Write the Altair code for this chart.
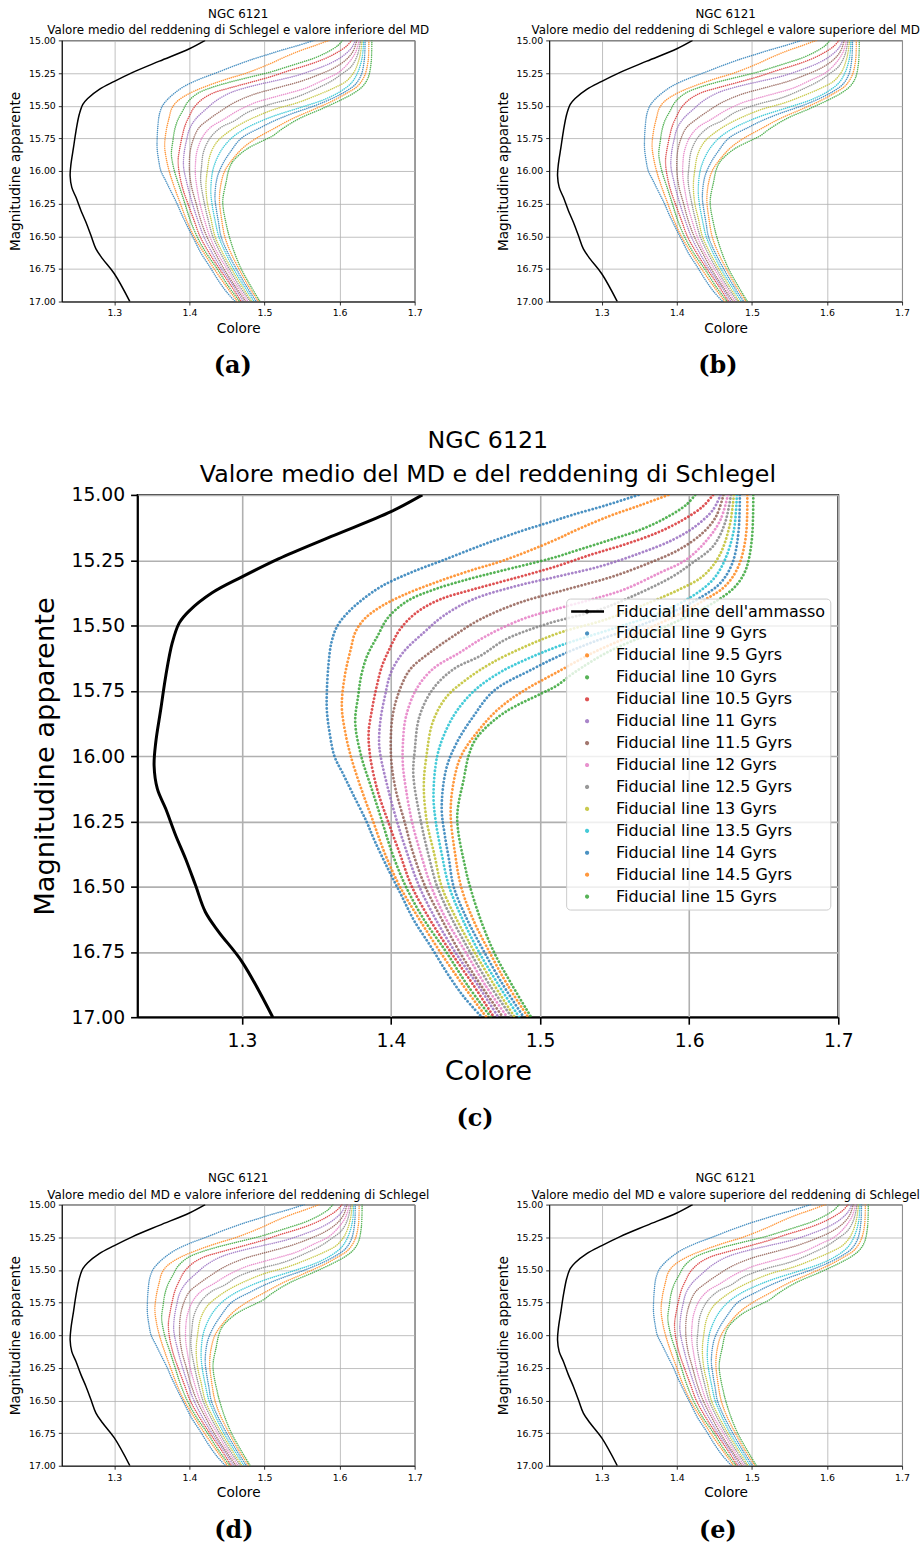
import altair as alt
import pandas as pd

# ---------------- data ----------------
X_DOMAIN = [1.23, 1.7]
Y_DOMAIN = [15.0, 17.0]
X_TICKS = [1.3, 1.4, 1.5, 1.6, 1.7]
Y_TICKS = [15.0, 15.25, 15.5, 15.75, 16.0, 16.25, 16.5, 16.75, 17.0]

FID_LABEL = "Fiducial line dell'ammasso"
FID_MAG = [15.000, 15.064, 15.159, 15.245, 15.314, 15.375, 15.445, 15.490, 15.566, 15.694,
           15.820, 15.948, 16.037, 16.126, 16.202, 16.304, 16.393, 16.495, 16.597, 16.673,
           16.787, 17.000]
FID_COL = [1.421, 1.400, 1.360, 1.3245, 1.300, 1.280, 1.2645, 1.258, 1.2533, 1.2489,
           1.2456, 1.2422, 1.2411, 1.2433, 1.2489, 1.2556, 1.2622, 1.2689, 1.2755, 1.2844,
           1.300, 1.3207]

AGES = ["9", "9.5", "10", "10.5", "11", "11.5", "12", "12.5", "13", "13.5", "14", "14.5", "15"]
ISO_COLORS = ["#1f77b4", "#ff7f0e", "#2ca02c", "#d62728", "#9467bd", "#8c564b", "#e377c2",
              "#7f7f7f", "#bcbd22", "#17becf", "#1f77b4", "#ff7f0e", "#2ca02c"]

MAG_090 = [15.000, 15.040, 15.076, 15.107, 15.139, 15.190, 15.250, 15.298, 15.349, 15.400, 15.451,
           15.502, 15.566, 15.655, 15.750, 15.828, 15.917, 16.000, 16.070, 16.146, 16.250, 16.324,
           16.432, 16.528, 16.630, 16.732, 16.834, 16.923, 17.000]
COL_090 = [1.566, 1.544, 1.522, 1.505, 1.487, 1.462, 1.435, 1.413, 1.394, 1.381, 1.371,
           1.364, 1.360, 1.358, 1.357, 1.357, 1.359, 1.362, 1.368, 1.3745, 1.3835, 1.389,
           1.398, 1.4065, 1.4155, 1.427, 1.438, 1.449, 1.461]

MAG_095 = [15.000, 15.040, 15.080, 15.130, 15.180, 15.250, 15.292, 15.337, 15.387, 15.432, 15.476,
           15.527, 15.591, 15.693, 15.808, 15.900, 16.000, 16.125, 16.250, 16.375, 16.500, 16.625,
           16.750, 16.875, 17.000]
COL_095 = [1.586, 1.567, 1.547, 1.526, 1.507, 1.476, 1.452, 1.429, 1.407, 1.392, 1.382,
           1.376, 1.373, 1.369, 1.367, 1.369, 1.373, 1.380, 1.388, 1.396, 1.406, 1.419,
           1.433, 1.448, 1.464]

MAG_100 = [15.000, 15.038, 15.089, 15.134, 15.172, 15.210, 15.242, 15.292, 15.324, 15.362, 15.406,
           15.470, 15.540, 15.616, 15.693, 15.769, 15.871, 16.000, 16.125, 16.250, 16.375, 16.500,
           16.625, 16.750, 16.875, 17.000]
COL_100 = [1.604, 1.598, 1.584, 1.567, 1.547, 1.526, 1.508, 1.473, 1.451, 1.429, 1.411,
           1.398, 1.391, 1.384, 1.380, 1.378, 1.376, 1.380, 1.387, 1.394, 1.401, 1.410,
           1.422, 1.437, 1.451, 1.467]

MAG_105 = [15.000, 15.045, 15.095, 15.146, 15.191, 15.229, 15.275, 15.317, 15.362, 15.400, 15.451,
           15.515, 15.578, 15.655, 15.744, 15.830, 15.910, 16.000, 16.133, 16.250, 16.375, 16.500,
           16.625, 16.750, 16.875, 17.000]
COL_105 = [1.616, 1.609, 1.596, 1.578, 1.556, 1.534, 1.510, 1.484, 1.455, 1.433, 1.417,
           1.406, 1.400, 1.394, 1.390, 1.387, 1.385, 1.386, 1.391, 1.398, 1.406, 1.414,
           1.426, 1.440, 1.455, 1.469]

MAG_110 = [15.000, 15.057, 15.121, 15.172, 15.223, 15.274, 15.312, 15.349, 15.400, 15.464, 15.527,
           15.604, 15.680, 15.769, 15.860, 15.948, 16.000, 16.125, 16.250, 16.375, 16.500, 16.625,
           16.750, 16.875, 17.000]
COL_110 = [1.621, 1.616, 1.604, 1.589, 1.567, 1.540, 1.512, 1.484, 1.455, 1.435, 1.422,
           1.408, 1.400, 1.396, 1.393, 1.392, 1.393, 1.398, 1.404, 1.411, 1.419, 1.430,
           1.443, 1.458, 1.472]

MAG_115 = [15.000, 15.083, 15.146, 15.210, 15.261, 15.312, 15.360, 15.413, 15.476, 15.540, 15.604,
           15.667, 15.744, 15.850, 16.000, 16.125, 16.250, 16.375, 16.500, 16.625, 16.750, 16.875,
           17.000]
COL_115 = [1.623, 1.618, 1.609, 1.593, 1.573, 1.549, 1.519, 1.486, 1.460, 1.442, 1.426,
           1.413, 1.406, 1.401, 1.400, 1.403, 1.409, 1.415, 1.423, 1.434, 1.446, 1.460,
           1.475]

MAG_120 = [15.000, 15.095, 15.172, 15.248, 15.299, 15.363, 15.401, 15.440, 15.476, 15.540, 15.604,
           15.667, 15.744, 15.850, 15.950, 16.037, 16.125, 16.250, 16.375, 16.500, 16.625, 16.750,
           16.875, 17.000]
COL_120 = [1.626, 1.621, 1.612, 1.598, 1.580, 1.556, 1.534, 1.509, 1.488, 1.464, 1.446,
           1.428, 1.417, 1.410, 1.408, 1.408, 1.410, 1.414, 1.420, 1.427, 1.437, 1.450,
           1.463, 1.478]

MAG_125 = [15.000, 15.108, 15.197, 15.261, 15.312, 15.375, 15.439, 15.495, 15.553, 15.616, 15.667,
           15.744, 15.850, 15.975, 16.075, 16.250, 16.375, 16.500, 16.625, 16.750, 16.875, 17.000]
COL_125 = [1.628, 1.624, 1.616, 1.602, 1.589, 1.567, 1.540, 1.504, 1.477, 1.460, 1.442,
           1.428, 1.419, 1.416, 1.415, 1.420, 1.425, 1.431, 1.441, 1.453, 1.466, 1.481]

MAG_130 = [15.000, 15.121, 15.235, 15.312, 15.363, 15.413, 15.477, 15.528, 15.578, 15.642, 15.705,
           15.775, 15.870, 15.990, 16.113, 16.250, 16.375, 16.500, 16.625, 16.750, 16.875, 17.000]
COL_130 = [1.630, 1.627, 1.620, 1.609, 1.593, 1.573, 1.544, 1.513, 1.491, 1.468, 1.451,
           1.437, 1.428, 1.424, 1.422, 1.424, 1.429, 1.434, 1.444, 1.456, 1.469, 1.483]

MAG_135 = [15.000, 15.134, 15.248, 15.324, 15.388, 15.452, 15.510, 15.578, 15.629, 15.680, 15.744,
           15.820, 15.900, 16.000, 16.151, 16.250, 16.375, 16.500, 16.625, 16.750, 16.875, 17.000]
COL_135 = [1.632, 1.630, 1.624, 1.616, 1.602, 1.580, 1.550, 1.513, 1.491, 1.473, 1.457,
           1.445, 1.437, 1.431, 1.4285, 1.430, 1.434, 1.439, 1.448, 1.459, 1.472, 1.486]

MAG_140 = [15.000, 15.146, 15.261, 15.337, 15.388, 15.440, 15.500, 15.560, 15.616, 15.667, 15.750,
           15.850, 15.950, 16.050, 16.200, 16.300, 16.400, 16.500, 16.625, 16.750, 16.875, 17.000]
COL_140 = [1.634, 1.633, 1.629, 1.621, 1.609, 1.592, 1.567, 1.537, 1.513, 1.495, 1.469,
           1.455, 1.444, 1.437, 1.434, 1.436, 1.439, 1.442, 1.451, 1.4625, 1.475, 1.489]

MAG_145 = [15.000, 15.159, 15.274, 15.350, 15.400, 15.460, 15.530, 15.600, 15.680, 15.750, 15.820,
           15.900, 16.000, 16.100, 16.220, 16.375, 16.500, 16.625, 16.750, 16.875, 17.000]
COL_145 = [1.639, 1.638, 1.633, 1.624, 1.611, 1.592, 1.565, 1.537, 1.511, 1.489, 1.472,
           1.459, 1.447, 1.442, 1.440, 1.443, 1.447, 1.455, 1.466, 1.478, 1.492]

MAG_150 = [15.000, 15.172, 15.286, 15.350, 15.400, 15.450, 15.520, 15.600, 15.680, 15.731, 15.760,
           15.830, 15.900, 15.943, 16.000, 16.083, 16.236, 16.432, 16.500, 16.625, 16.750, 16.875,
           17.000]
COL_150 = [1.643, 1.642, 1.638, 1.631, 1.620, 1.604, 1.578, 1.546, 1.523, 1.511, 1.501,
           1.477, 1.462, 1.456, 1.452, 1.449, 1.4444, 1.450, 1.453, 1.460, 1.469, 1.481,
           1.494]

ISO_MAGS = [MAG_090, MAG_095, MAG_100, MAG_105, MAG_110, MAG_115, MAG_120,
            MAG_125, MAG_130, MAG_135, MAG_140, MAG_145, MAG_150]
ISO_COLS = [COL_090, COL_095, COL_100, COL_105, COL_110, COL_115, COL_120,
            COL_125, COL_130, COL_135, COL_140, COL_145, COL_150]

# colour shift of the isochrone grid in each panel
PANEL_KEYS = ["a", "b", "c", "d", "e"]
PANEL_SHIFT = [0.0, 0.0, 0.0, -0.013, 0.012]
CAPTION_DX = [14, 10, 33, 15, 10]
PANEL_SUBTITLES = [
    "Valore medio del reddening di Schlegel e valore inferiore del MD",
    "Valore medio del reddening di Schlegel e valore superiore del MD",
    "Valore medio del MD e del reddening di Schlegel",
    "Valore medio del MD e valore inferiore del reddening di Schlegel",
    "Valore medio del MD e valore superiore del reddening di Schlegel",
]
CLUSTER = "NGC 6121"

ISO_LABELS = [f"Fiducial line {a} Gyrs" for a in AGES]
ALL_LABELS = [FID_LABEL] + ISO_LABELS
ALL_COLORS = ["black"] + ISO_COLORS

FONT = "DejaVu Sans"


def iso_frame(shift):
    rows = []
    for label, mags, cols in zip(ISO_LABELS, ISO_MAGS, ISO_COLS):
        for m, c in zip(mags, cols):
            rows.append({"label": label, "m": m, "c": round(c + shift, 4)})
    return pd.DataFrame(rows)


def panel(idx, s, show_legend):
    fid = pd.DataFrame({"m": FID_MAG, "c": FID_COL, "label": FID_LABEL})
    iso = iso_frame(PANEL_SHIFT[idx])

    x = alt.X("c:Q",
              scale=alt.Scale(domain=X_DOMAIN, nice=False, zero=False),
              axis=alt.Axis(values=X_TICKS, format=".1f", title="Colore",
                            labelFont=FONT, titleFont=FONT, labelFontSize=9.4 * s,
                            titleFontSize=13.7 * s, titleFontWeight="normal",
                            labelColor="black", titleColor="black",
                            tickColor="black", tickSize=3.5 * s, tickWidth=0.8 * s,
                            domainColor="black", domainWidth=0.8 * s,
                            gridColor="#b0b0b0", gridWidth=0.8 * s,
                            labelPadding=4 if s == 1 else 7,
                            titlePadding=4 if s == 1 else 8,
                            labelFlush=False, labelOverlap=False))
    y = alt.Y("m:Q",
              scale=alt.Scale(domain=Y_DOMAIN, reverse=True, nice=False, zero=False),
              axis=alt.Axis(values=Y_TICKS, format=".2f", title="Magnitudine apparente",
                            labelFont=FONT, titleFont=FONT, labelFontSize=9.4 * s,
                            titleFontSize=13.7 * s, titleFontWeight="normal",
                            labelColor="black", titleColor="black",
                            tickColor="black", tickSize=3.5 * s, tickWidth=0.8 * s,
                            domainColor="black", domainWidth=0.8 * s,
                            gridColor="#b0b0b0", gridWidth=0.8 * s,
                            labelPadding=3 * s, titlePadding=6 * s,
                            labelFlush=False, labelOverlap=False))
    if show_legend:
        legend = alt.Legend(
            title=None, orient="none", legendX=430, legendY=104, zindex=1,
            direction="vertical",
            labelFont=FONT, labelFontSize=16, labelColor="black", labelLimit=0,
            labelOffset=21, symbolType="circle", symbolSize=4, symbolStrokeWidth=2.2,
            symbolOffset=8, symbolDash=[1, 0], rowPadding=6, padding=5,
            strokeColor="#cccccc", fillColor="rgba(255,255,255,0.8)", cornerRadius=4)
        # line-shaped key drawn over the first (cluster) entry of the legend above
        key_legend = alt.Legend(
            title=None, orient="none", legendX=430, legendY=94, zindex=2,
            labelExpr="''", labelFontSize=16, symbolType="stroke", symbolSize=1089,
            symbolStrokeWidth=2.6, symbolOpacity=1, symbolOffset=-1.5, padding=5,
            strokeColor="transparent", fillColor="transparent")
    else:
        legend = None
        key_legend = None

    color = alt.Color("label:N", scale=alt.Scale(domain=ALL_LABELS, range=ALL_COLORS),
                      legend=legend)

    fid_layer = alt.Chart(fid).mark_line(
        strokeWidth=1.5 * s, clip=True, interpolate="catmull-rom").encode(
        x=x, y=y, color=color, order=alt.Order("m:Q"))
    iso_layer = alt.Chart(iso).mark_line(
        strokeWidth=1.5 if s == 1 else 2.8,
        strokeDash=[0.1, 2.0] if s == 1 else [0.1, 3.6], strokeCap="round",
        opacity=0.8, interpolate="catmull-rom", clip=True).encode(
        x=x, y=y, color=color, order=alt.Order("m:Q"))
    layers = [fid_layer, iso_layer]
    if show_legend:
        key_layer = alt.Chart(fid).mark_line(opacity=0, clip=True).encode(
            x=x, y=y, order=alt.Order("m:Q"),
            stroke=alt.Stroke("label:N",
                              scale=alt.Scale(domain=[FID_LABEL], range=["black"]),
                              legend=key_legend))
        layers.append(key_layer)

    w, h = (703, 524) if s == 2 else (354, 262)
    chart = alt.layer(*layers).properties(
        width=w, height=h,
        view=alt.ViewBackground(stroke="black", strokeWidth=0.9 * s),
        title=alt.TitleParams(text=[CLUSTER, PANEL_SUBTITLES[idx]], font=FONT,
                              fontSize=11.9 if s == 1 else 23.8,
                              fontWeight="normal", color="black",
                              lineHeight=17 * s, offset=-2 if s == 1 else -1,
                              anchor="middle"))
    wrapped = alt.vconcat(chart, title=alt.TitleParams(
        text=f"({PANEL_KEYS[idx]})", orient="bottom", anchor="middle",
        font="DejaVu Serif", fontWeight="bold", fontSize=24, color="black",
        dx=CAPTION_DX[idx], offset=19 if s == 1 else 21)).resolve_scale(
        color="independent", stroke="independent").resolve_legend(
        color="independent", stroke="independent")
    return wrapped


def indep(c):
    return c.resolve_scale(color="independent", stroke="independent").resolve_legend(
        color="independent", stroke="independent")


pa = panel(0, 1, False)
pb = panel(1, 1, False)
pc = panel(2, 2, True)
pd_ = panel(3, 1, False)
pe = panel(4, 1, False)

spacer = alt.Chart(pd.DataFrame({"z": [0]})).mark_point(opacity=0, size=1).encode(
    x=alt.X("z:Q", axis=None), y=alt.Y("z:Q", axis=None)).properties(
    width=1, height=1, view=alt.ViewBackground(stroke="transparent"))

row1 = indep(alt.hconcat(pa, pb, spacing=66))
row2 = indep(alt.hconcat(spacer, pc, spacing=-34))
row3 = indep(alt.hconcat(pd_, pe, spacing=66))

top = indep(alt.concat(row1, row2, columns=1, spacing=49, align="none"))
chart = indep(alt.concat(top, row3, columns=1, spacing=39, align="none")).properties(
    padding={"left": 8, "top": 4, "right": 0, "bottom": 0},
    background="white")

chart.save("out.html", embed_options={"renderer": "svg", "actions": False})
